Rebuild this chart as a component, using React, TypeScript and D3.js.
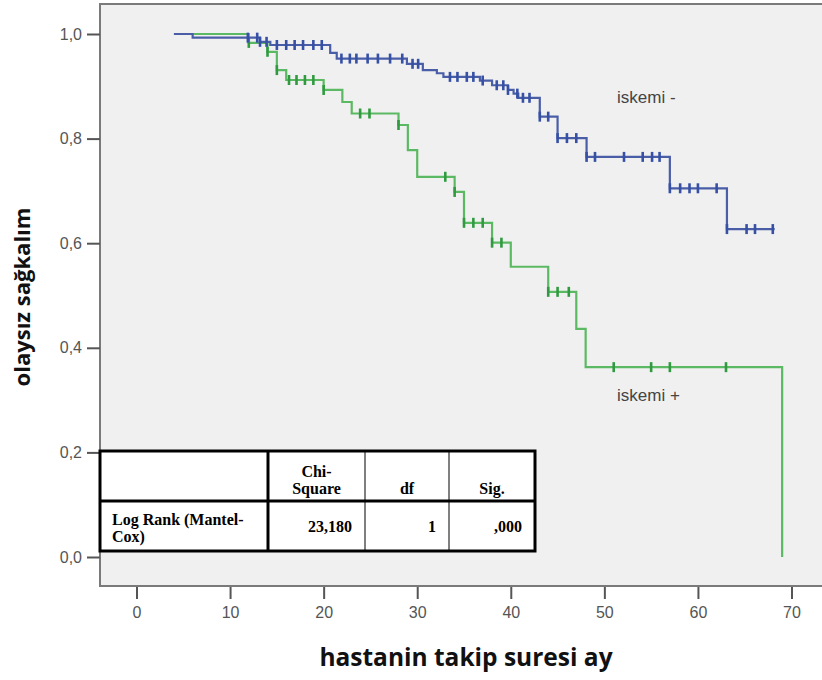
import { useEffect, useRef } from "react"
import * as d3 from "d3"

// iskemi - (blue): step times (months) and survival after each step
const negTimes = [4, 6, 13.2, 14.3, 20.7, 21.4, 28.9, 30.6, 32.1, 32.8, 36.7, 38, 39.7, 40.3, 40.8, 43.1, 45, 48.1, 57, 63.1]
const negSurv = [1.0, 0.993, 0.985, 0.979, 0.964, 0.953, 0.943, 0.931, 0.925, 0.918, 0.911, 0.902, 0.893, 0.886, 0.878, 0.842, 0.801, 0.765, 0.705, 0.627]
const negEnd = 68.2
const negCensor = [11.9, 12.9, 13.2, 13.9, 15, 16, 16.9, 17.8, 18.9, 19.8, 21.9, 22.8, 23.5, 24.7, 25.8, 27.1, 28.4, 29.5, 30.1, 33.5, 34.3, 35.3, 36, 37, 38.5, 39.2, 39.7, 40.7, 41.3, 42, 43.1, 44, 45, 46, 47, 48.1, 49, 52.1, 54.1, 55.1, 55.9, 57, 58.1, 59.1, 60, 62, 63.1, 65.2, 66.1, 68]

// iskemi + (green)
const posTimes = [4, 12, 14, 15, 16, 20, 22, 23, 28, 29, 30, 34, 35, 38, 40, 44, 47, 48, 69]
const posSurv = [1.0, 0.983, 0.966, 0.931, 0.912, 0.893, 0.87, 0.848, 0.826, 0.778, 0.727, 0.698, 0.639, 0.601, 0.555, 0.507, 0.436, 0.363, 0.0]
const posEnd = 69
const posCensor = [12, 14, 15, 16.3, 17.1, 18, 18.9, 20, 23.9, 24.9, 28, 33, 34, 35, 36, 37, 38, 39, 44, 45, 46.2, 51, 55, 57, 63]

const xTicks = [0, 10, 20, 30, 40, 50, 60, 70]
const yTicks = [0, 0.2, 0.4, 0.6, 0.8, 1.0]

const tableHead = ["", "Chi-\nSquare", "df", "Sig."]
const tableRow = ["Log Rank (Mantel-\nCox)", "23,180", "1", ",000"]

export default function App() {
    const ref = useRef<SVGSVGElement>(null)
    const width = 822, height = 680

    useEffect(() => {
        const svg = d3.select(ref.current)
        svg.selectAll("*").remove()

        const x = d3.scaleLinear().domain([0, 70]).range([136.5, 791.5])
        const y = d3.scaleLinear().domain([0, 1]).range([557, 34])

        // plot background + frame
        svg.append("rect")
            .attr("x", 100).attr("y", 4).attr("width", 740).attr("height", 582)
            .attr("fill", "#f0f0f0").attr("stroke", "#7a7a7a").attr("stroke-width", 2)

        const fmt = (d: number) => d.toFixed(1).replace(".", ",")

        const yAxis = svg.append("g")
            .attr("transform", "translate(100,0)")
            .call(d3.axisLeft(y).tickValues(yTicks).tickFormat(fmt as any).tickSize(13).tickPadding(5))
        const xAxis = svg.append("g")
            .attr("transform", "translate(0,587)")
            .call(d3.axisBottom(x).tickValues(xTicks).tickSize(12).tickPadding(8))
        for (const ax of [xAxis, yAxis]) {
            ax.select(".domain").remove()
            ax.selectAll("line").attr("stroke", "#555").attr("stroke-width", 2)
            ax.selectAll("text")
                .attr("fill", "#555")
                .attr("font-family", "Arial, 'Liberation Sans', sans-serif")
                .attr("font-size", 16)
        }

        const drawCurve = (times: number[], surv: number[], end: number, censor: number[], lineColor: string, markColor: string) => {
            const pts: [number, number][] = times.map((t, i) => [t, surv[i]])
            pts.push([end, surv[surv.length - 1]])
            const line = d3.line<[number, number]>()
                .x(d => x(d[0]))
                .y(d => y(d[1]))
                .curve(d3.curveStepAfter)
            svg.append("path")
                .attr("d", line(pts))
                .attr("fill", "none")
                .attr("stroke", lineColor)
                .attr("stroke-width", 2.2)
            svg.append("g").selectAll("line")
                .data(censor)
                .enter().append("line")
                .attr("x1", d => x(d)).attr("x2", d => x(d))
                .attr("y1", d => y(surv[Math.max(0, d3.bisectRight(times, d) - 1)]) - 5)
                .attr("y2", d => y(surv[Math.max(0, d3.bisectRight(times, d) - 1)]) + 5)
                .attr("stroke", markColor)
                .attr("stroke-width", 2.6)
        }

        drawCurve(posTimes, posSurv, posEnd, posCensor, "#5cb963", "#2f9a3f")
        drawCurve(negTimes, negSurv, negEnd, negCensor, "#4a5ea8", "#3550a5")

        svg.append("text").text("iskemi -")
            .attr("x", 617).attr("y", 103)
            .attr("font-family", "Arial, 'Liberation Sans', sans-serif").attr("font-size", 17).attr("fill", "#444")
        svg.append("text").text("iskemi +")
            .attr("x", 617).attr("y", 401)
            .attr("font-family", "Arial, 'Liberation Sans', sans-serif").attr("font-size", 17).attr("fill", "#444")

        // axis titles
        svg.append("text").text("hastanin takip suresi ay")
            .attr("x", 466).attr("y", 666).attr("text-anchor", "middle")
            .attr("font-family", "'Open Sans', sans-serif").attr("font-weight", 700).attr("font-size", 24.5).attr("fill", "#111")
        svg.append("text").text("olaysız sağkalım")
            .attr("transform", "translate(30,297) rotate(-90)").attr("text-anchor", "middle")
            .attr("font-family", "'Open Sans', sans-serif").attr("font-weight", 700).attr("font-size", 22).attr("fill", "#111")

        // log rank table
        const cols = [100, 268, 365, 449, 535]
        const top = 451, mid = 501, bot = 551
        const tbl = svg.append("g")
        tbl.append("rect").attr("x", cols[0]).attr("y", top).attr("width", cols[4] - cols[0]).attr("height", bot - top)
            .attr("fill", "#fff")
        tbl.selectAll("line.v").data(cols.slice(1, 4)).enter().append("line")
            .attr("x1", d => d).attr("x2", d => d).attr("y1", top).attr("y2", bot)
            .attr("stroke", "#000").attr("stroke-width", (d, i) => i === 0 ? 3 : 1)
        tbl.append("line").attr("x1", cols[0]).attr("x2", cols[4]).attr("y1", mid).attr("y2", mid)
            .attr("stroke", "#000").attr("stroke-width", 3)
        tbl.append("rect").attr("x", cols[0]).attr("y", top).attr("width", cols[4] - cols[0]).attr("height", bot - top)
            .attr("fill", "none").attr("stroke", "#000").attr("stroke-width", 3)

        const tf = (sel: any) => sel.attr("font-family", "'Times New Roman', 'Liberation Serif', serif")
            .attr("font-weight", 700).attr("font-size", 16).attr("fill", "#000")

        tableHead.forEach((h, i) => {
            if (!h) return
            const lines = h.split("\n")
            const cx = (cols[i] + cols[i + 1]) / 2
            lines.forEach((l, j) => {
                tf(tbl.append("text").text(l)
                    .attr("x", cx).attr("y", 494 - (lines.length - 1 - j) * 17)
                    .attr("text-anchor", "middle"))
            })
        })
        tableRow.forEach((v, i) => {
            if (i === 0) {
                v.split("\n").forEach((l, j) => {
                    tf(tbl.append("text").text(l).attr("x", 112).attr("y", 525 + j * 17))
                })
            } else {
                tf(tbl.append("text").text(v)
                    .attr("x", cols[i + 1] - 13).attr("y", 532).attr("text-anchor", "end"))
            }
        })
    }, [])

    return (
        <div style={{ position: "absolute", left: 0, top: 0 }}>
            <svg ref={ref} width={width} height={height} style={{ display: "block", background: "#fff" }}></svg>
        </div>
    )
}
